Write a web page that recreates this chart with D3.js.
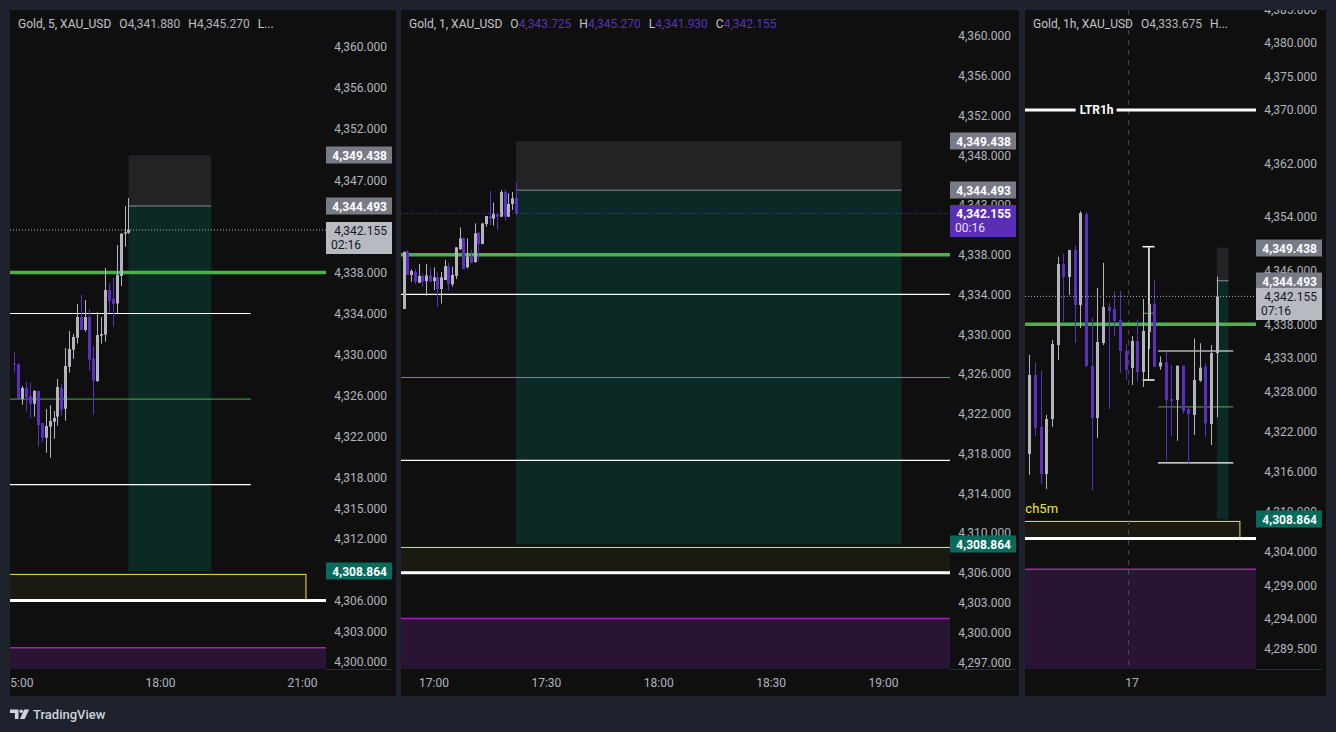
<!DOCTYPE html>
<html>
<head>
<meta charset="utf-8">
<script src="https://cdn.jsdelivr.net/npm/d3@7"></script>
<style>
    html, body { margin: 0; padding: 0; background: #1e222d; }
    svg { display: block; font-family: Roboto, "Noto Sans", sans-serif; }
</style>
</head>
<body>
<div id="chart"></div>
<script>
// ---------- data ----------

// 5 minute bars [open, high, low, close], first bar 14:55
const start5m = "2025-12-17T14:55";
const candles5m = [
    [4329.10, 4330.21, 4328.23, 4329.05], [4329.07, 4329.17, 4325.66, 4325.66],
    [4325.66, 4326.93, 4325.11, 4326.73], [4326.73, 4327.38, 4324.42, 4325.82],
    [4325.95, 4327.22, 4323.84, 4325.20], [4325.20, 4326.54, 4323.94, 4326.44],
    [4326.44, 4326.44, 4321.01, 4323.12], [4323.32, 4323.32, 4321.50, 4321.89],
    [4321.89, 4324.68, 4320.42, 4323.02], [4322.96, 4325.07, 4319.94, 4323.51],
    [4323.45, 4324.49, 4321.79, 4323.81], [4323.94, 4327.61, 4323.06, 4326.83],
    [4326.73, 4327.12, 4324.03, 4324.62], [4324.71, 4330.63, 4323.55, 4328.88],
    [4328.81, 4332.29, 4328.23, 4330.54], [4330.47, 4332.00, 4329.59, 4331.71],
    [4331.64, 4334.93, 4331.06, 4333.66], [4333.66, 4335.81, 4332.39, 4332.42],
    [4332.39, 4335.32, 4332.23, 4333.66], [4333.66, 4334.44, 4328.42, 4329.49],
    [4329.63, 4330.83, 4324.13, 4327.45], [4327.42, 4334.15, 4327.32, 4331.90],
    [4331.84, 4333.66, 4331.06, 4332.00], [4331.94, 4338.44, 4331.25, 4336.29],
    [4336.29, 4336.98, 4334.05, 4335.22], [4335.41, 4337.50, 4332.71, 4334.93],
    [4334.99, 4340.68, 4334.05, 4337.76], [4337.66, 4341.85, 4336.68, 4341.79],
    [4341.79, 4344.49, 4340.52, 4341.92], [4341.88, 4345.27, 4341.79, 4342.155]
];

// 1 minute bars, first bar 16:52
const start1m = "2025-12-17T16:52";
const candles1m = [
    [4332.54, 4338.30, 4332.54, 4338.30], [4338.30, 4338.47, 4335.96, 4335.96],
    [4335.96, 4336.53, 4335.29, 4336.36], [4336.29, 4336.53, 4335.05, 4335.29],
    [4335.18, 4337.06, 4335.18, 4335.87], [4335.87, 4336.12, 4334.78, 4335.29],
    [4335.35, 4337.06, 4333.88, 4335.92], [4335.92, 4336.73, 4335.29, 4335.29],
    [4335.35, 4336.73, 4334.45, 4335.72], [4335.72, 4336.22, 4332.77, 4334.55],
    [4334.55, 4336.26, 4333.10, 4335.72], [4335.45, 4337.47, 4335.45, 4336.86],
    [4336.86, 4337.20, 4334.38, 4335.02], [4335.02, 4336.79, 4334.78, 4335.96],
    [4335.87, 4338.74, 4335.55, 4338.74], [4338.57, 4340.75, 4338.47, 4339.64],
    [4339.64, 4339.74, 4336.56, 4336.56], [4336.73, 4339.64, 4336.63, 4337.80],
    [4337.80, 4338.47, 4337.13, 4337.20], [4337.26, 4341.15, 4337.20, 4340.15],
    [4340.21, 4340.31, 4337.40, 4339.07], [4339.07, 4341.15, 4339.07, 4341.15],
    [4341.09, 4341.89, 4340.82, 4341.89], [4341.89, 4344.41, 4340.99, 4341.62],
    [4341.62, 4343.23, 4340.92, 4342.09], [4342.09, 4342.16, 4340.48, 4341.82],
    [4341.82, 4344.51, 4341.82, 4344.31], [4344.31, 4344.51, 4341.42, 4341.82],
    [4341.82, 4344.17, 4341.82, 4343.10], [4343.10, 4344.31, 4342.50, 4343.67],
    [4343.725, 4345.27, 4341.93, 4342.155]
];

// 1 hour bars (chart's own clock), first bar 16th 06:00
const start1h = "2025-12-16T06:00";
const candles1h = [
    [4318.62, 4333.41, 4315.49, 4330.42], [4330.42, 4332.21, 4321.31, 4322.51],
    [4322.66, 4331.02, 4314.14, 4315.64], [4315.64, 4324.45, 4313.40, 4323.85],
    [4323.85, 4335.65, 4322.66, 4335.05], [4334.90, 4348.04, 4332.66, 4347.00],
    [4347.00, 4348.49, 4338.34, 4345.06], [4345.06, 4349.09, 4342.37, 4349.09],
    [4349.09, 4349.68, 4335.20, 4340.87], [4340.87, 4354.91, 4337.44, 4354.61],
    [4354.46, 4354.76, 4331.62, 4331.77], [4331.77, 4338.93, 4313.25, 4324.00],
    [4324.00, 4343.41, 4321.01, 4335.35], [4335.20, 4347.15, 4334.90, 4340.58],
    [4340.58, 4341.17, 4325.34, 4339.98], [4340.28, 4342.96, 4336.24, 4338.48],
    [4338.63, 4342.96, 4330.72, 4334.00], [4334.00, 4335.05, 4329.67, 4331.17],
    [4331.47, 4336.24, 4328.93, 4335.50], [4335.50, 4338.63, 4329.53, 4330.87],
    [4330.87, 4341.77, 4328.63, 4336.99], [4336.84, 4349.53, 4334.30, 4341.02],
    [4341.02, 4344.61, 4331.66, 4331.66], [4331.66, 4333.20, 4331.20, 4332.31],
    [4332.31, 4333.90, 4317.63, 4326.69], [4326.84, 4331.91, 4321.31, 4326.54],
    [4326.69, 4331.81, 4320.61, 4331.81], [4331.81, 4331.81, 4324.60, 4325.04],
    [4325.34, 4325.44, 4317.23, 4324.60], [4324.45, 4335.89, 4321.46, 4329.67],
    [4329.57, 4335.15, 4329.40, 4331.51], [4331.66, 4332.16, 4321.21, 4323.20],
    [4323.10, 4334.90, 4319.96, 4333.675], [4333.675, 4345.10, 4324.10, 4342.155]
];

// price scale labels
const ticks5m = [4360, 4356, 4352, 4347, 4338, 4334, 4330, 4326, 4322, 4318, 4315, 4312, 4306, 4303, 4300];
const ticks1m = [4360, 4356, 4352, 4348, 4343, 4338, 4334, 4330, 4326, 4322, 4318, 4314, 4310, 4306, 4303, 4300, 4297];
const ticks1h = [4385, 4380, 4375, 4370, 4362, 4354, 4346, 4338, 4333, 4328, 4322, 4316, 4310, 4304, 4299, 4294, 4289.5];

// time scale labels
const timeTicks5m = ["2025-12-17T15:00", "2025-12-17T18:00", "2025-12-17T21:00"];
const timeTicks1m = ["2025-12-17T17:00", "2025-12-17T17:30", "2025-12-17T18:00", "2025-12-17T18:30", "2025-12-17T19:00"];
const timeTicks1h = ["2025-12-17T00:00"];

// drawings (times on the 5m / 1m clock)
const levelPrices = [4334.0, 4325.65, 4317.3];
const levelSpan = ["2025-12-17T06:40", "2025-12-17T19:55"];
const keyLevel = 4338.0;
const lowLevel = 4306.0;
const ltrLevel = 4370.0;
const yellowZone = [4306.0, 4308.55];
const yellowZoneEnd = "2025-12-17T21:05";
const yellowLabelTime = "2025-12-16T13:04";
const purpleZoneTop = 4301.4;
const positionPrices = [4349.438, 4344.493, 4308.864];   // target, entry, stop
const positionSpan = ["2025-12-17T17:22", "2025-12-17T19:05"];
const bracketTime = "2025-12-17T05:00";
const bracketPrices = [4349.58, 4339.63, 4329.67];
const lastPrice = 4342.155;

// ---------- layout ----------
const W = 1336, H = 732;
const TOP = 10, PLOT_BOTTOM = 669, PANEL_BOTTOM = 696;
const UP = "#b2b5be", DOWN = "#5b2fbf";
const parseT = s => new Date(s);
const fmtPrice = d3.format(",.3f");

const panels = [
    {
        key: "p5", left: 10, plotRight: 326, right: 396,
        priceDomain: [4299.32, 4363.61],
        timeDomain: ["2025-12-17T15:00", "2025-12-17T21:00"], timeRange: [18, 302],
        candles: candles5m, start: start5m, step: d3.timeMinute.every(5), stepMin: 5,
        priceTicks: ticks5m, timeTicks: timeTicks5m, timeFmt: "%H:%M", shiftMin: 0,
        title: "Gold, 5, XAU_USD", ohlc: [["O", "4,341.880"], ["H", "4,345.270"], ["L...", ""]],
        countdown: "02:16", bodyW: 3
    },
    {
        key: "p1", left: 401, plotRight: 950, right: 1019,
        priceDomain: [4296.32, 4362.62],
        timeDomain: ["2025-12-17T17:00", "2025-12-17T19:00"], timeRange: [433.5, 883],
        candles: candles1m, start: start1m, step: d3.timeMinute, stepMin: 1,
        priceTicks: ticks1m, timeTicks: timeTicks1m, timeFmt: "%H:%M", shiftMin: 0,
        title: "Gold, 1, XAU_USD",
        ohlc: [["O", "4,343.725"], ["H", "4,345.270"], ["L", "4,341.930"], ["C", "4,342.155"]],
        countdown: "00:16", bodyW: 3
    },
    {
        key: "p60", left: 1025, plotRight: 1256, right: 1326,
        priceDomain: [4286.51, 4384.93],
        timeDomain: ["2025-12-17T00:00", "2025-12-17T15:00"], timeRange: [1131.5, 1216.7],
        candles: candles1h, start: start1h, step: d3.timeHour, stepMin: 60,
        priceTicks: ticks1h, timeTicks: timeTicks1h, timeFmt: "%-d", shiftMin: -120,
        title: "Gold, 1h, XAU_USD", ohlc: [["O", "4,333.675"], ["H...", ""]],
        countdown: "07:16", bodyW: 3, sessionBreaks: ["2025-12-17T00:00"], ltrLabelAt: 0.31
    }
];

const svg = d3.select("#chart").append("svg")
    .attr("width", W)
    .attr("height", H);

svg.append("rect")
    .attr("width", W)
    .attr("height", H)
    .attr("fill", "#1e222d");

const defs = svg.append("defs");

panels.forEach(drawPanel);
drawLogo();

function drawPanel(p) {
    const g = svg.append("g").attr("class", "panel " + p.key);
    const xL = p.left, xR = p.plotRight;

    g.append("rect")
        .attr("x", p.left).attr("y", TOP)
        .attr("width", p.right - p.left).attr("height", PANEL_BOTTOM - TOP)
        .attr("fill", "#0f0f0f");

    const y = d3.scaleLinear().domain(p.priceDomain).range([PLOT_BOTTOM, TOP]);
    const x = d3.scaleTime().domain(p.timeDomain.map(parseT)).range(p.timeRange);
    const toPanel = s => d3.timeMinute.offset(parseT(s), p.shiftMin);

    // clip regions
    addClip("plot-" + p.key, xL, TOP, xR - xL, PLOT_BOTTOM - TOP);
    addClip("axis-" + p.key, xR, TOP, p.right - xR, PLOT_BOTTOM - TOP);
    addClip("time-" + p.key, xL, PLOT_BOTTOM, xR - xL, PANEL_BOTTOM - PLOT_BOTTOM);

    const plot = g.append("g").attr("clip-path", `url(#plot-${p.key})`);

    // purple demand zone (runs off the bottom)
    plot.append("rect")
        .attr("x", xL).attr("y", y(purpleZoneTop))
        .attr("width", xR - xL).attr("height", PLOT_BOTTOM - y(purpleZoneTop))
        .attr("fill", "#2a1433");
    plot.append("line")
        .attr("x1", xL).attr("x2", xR)
        .attr("y1", y(purpleZoneTop)).attr("y2", y(purpleZoneTop))
        .attr("stroke", "#9c27b0").attr("stroke-width", 1.5);

    // yellow zone
    const yzEnd = x(toPanel(yellowZoneEnd));
    plot.append("rect")
        .attr("x", xL - 10).attr("y", y(yellowZone[1]))
        .attr("width", yzEnd - xL + 10).attr("height", y(yellowZone[0]) - y(yellowZone[1]))
        .attr("fill", "#1a1912")
        .attr("stroke", "#f5e33b").attr("stroke-width", 1);
    const labelX = x(toPanel(yellowLabelTime));
    if (labelX > xL) {
        plot.append("text")
            .attr("x", labelX)
            .attr("y", y(yellowZone[1]) - 8)
            .attr("text-anchor", "end")
            .attr("fill", "#f5e33b")
            .attr("font-size", 13)
            .text("ch5m");
    }

    // long/short position tool
    const [target, entry, stop] = positionPrices;
    const px0 = x(p.step.floor(toPanel(positionSpan[0])));
    const px1 = x(toPanel(positionSpan[1]));
    plot.append("rect")
        .attr("x", px0).attr("y", y(target))
        .attr("width", px1 - px0).attr("height", y(entry) - y(target))
        .attr("fill", "#232325");
    plot.append("rect")
        .attr("x", px0).attr("y", y(entry))
        .attr("width", px1 - px0).attr("height", y(stop) - y(entry))
        .attr("fill", "#0b2a26");
    plot.append("line")
        .attr("x1", px0).attr("x2", px1)
        .attr("y1", y(entry)).attr("y2", y(entry))
        .attr("stroke", "#8a8d96").attr("stroke-width", 1);

    // session break
    (p.sessionBreaks || []).forEach(s => {
        const sx = x(d3.timeMinute.offset(parseT(s), -p.stepMin / 2));
        plot.append("line")
            .attr("x1", sx).attr("x2", sx)
            .attr("y1", TOP).attr("y2", PLOT_BOTTOM)
            .attr("stroke", "#4a4c52").attr("stroke-dasharray", "5,5");
    });

    // horizontal levels
    plot.append("line")
        .attr("x1", xL).attr("x2", xR)
        .attr("y1", y(lowLevel)).attr("y2", y(lowLevel))
        .attr("stroke", "#ffffff").attr("stroke-width", 3);

    const lx0 = x(toPanel(levelSpan[0])), lx1 = x(toPanel(levelSpan[1]));
    levelPrices.forEach((v, i) => {
        plot.append("line")
            .attr("x1", lx0).attr("x2", lx1)
            .attr("y1", y(v)).attr("y2", y(v))
            .attr("stroke", i === 1 ? "#4caf50" : "#ffffff")
            .attr("stroke-width", i === 1 ? 1 : 1.2);
    });

    plot.append("line")
        .attr("x1", xL).attr("x2", xR)
        .attr("y1", y(keyLevel)).attr("y2", y(keyLevel))
        .attr("stroke", "#4caf50").attr("stroke-width", 3.5);

    // LTR1h ray with its label cut into it
    const ltrY = y(ltrLevel);
    if (ltrY > TOP && ltrY < PLOT_BOTTOM) {
        const cx = xL + (xR - xL) * p.ltrLabelAt;
        plot.append("line")
            .attr("x1", xL).attr("x2", cx - 21)
            .attr("y1", ltrY).attr("y2", ltrY)
            .attr("stroke", "#ffffff").attr("stroke-width", 3);
        plot.append("line")
            .attr("x1", cx + 20).attr("x2", xR)
            .attr("y1", ltrY).attr("y2", ltrY)
            .attr("stroke", "#ffffff").attr("stroke-width", 3);
        plot.append("text")
            .attr("x", cx).attr("y", ltrY + 4)
            .attr("text-anchor", "middle")
            .attr("fill", "#ffffff").attr("font-size", 12).attr("font-weight", 700)
            .text("LTR1h");
    }

    // range bracket on the 1h chart
    const bx = x(toPanel(bracketTime));
    plot.append("line")
        .attr("x1", bx).attr("x2", bx)
        .attr("y1", y(bracketPrices[0])).attr("y2", y(bracketPrices[2]))
        .attr("stroke", "#e0e0e0").attr("stroke-width", 1);
    [0, 2].forEach(i => {
        plot.append("line")
            .attr("x1", bx - 6).attr("x2", bx + 6)
            .attr("y1", y(bracketPrices[i])).attr("y2", y(bracketPrices[i]))
            .attr("stroke", "#ffffff").attr("stroke-width", 1.5);
    });
    plot.append("line")
        .attr("x1", bx - 6).attr("x2", bx + 5)
        .attr("y1", y(bracketPrices[1])).attr("y2", y(bracketPrices[1]))
        .attr("stroke", "#4caf50").attr("stroke-width", 1);

    // candles
    const start = parseT(p.start);
    const bars = p.candles.map((c, i) => ({
        t: d3.timeMinute.offset(start, i * p.stepMin),
        o: c[0], h: c[1], l: c[2], c: c[3]
    }));
    const candle = plot.append("g").selectAll("g")
        .data(bars)
        .join("g")
        .attr("fill", d => d.c >= d.o ? UP : DOWN)
        .attr("stroke", d => d.c >= d.o ? UP : DOWN);
    candle.append("line")
        .attr("x1", d => Math.round(x(d.t)) + 0.5)
        .attr("x2", d => Math.round(x(d.t)) + 0.5)
        .attr("y1", d => y(d.h)).attr("y2", d => y(d.l))
        .attr("stroke-width", 1);
    candle.append("rect")
        .attr("stroke", "none")
        .attr("x", d => Math.round(x(d.t)) + 0.5 - p.bodyW / 2)
        .attr("width", p.bodyW)
        .attr("y", d => y(Math.max(d.o, d.c)))
        .attr("height", d => Math.max(1, Math.abs(y(d.o) - y(d.c))));

    // last price dotted line
    const last = bars[bars.length - 1];
    const lastColor = last.c >= last.o ? UP : DOWN;
    plot.append("line")
        .attr("x1", xL).attr("x2", xR)
        .attr("y1", y(lastPrice)).attr("y2", y(lastPrice))
        .attr("stroke", lastColor).attr("stroke-width", 1)
        .attr("stroke-dasharray", "1,2");

    // legend line
    const legend = g.append("text")
        .attr("x", p.left + 8).attr("y", 28)
        .attr("font-size", 12)
        .attr("fill", "#c3c6ce");
    legend.append("tspan").text(p.title);
    p.ohlc.forEach(([k, v]) => {
        legend.append("tspan").attr("dx", 8).text(k);
        if (v) legend.append("tspan").attr("fill", lastColor).text(v);
    });

    // price axis
    const axisG = g.append("g")
        .attr("clip-path", `url(#axis-${p.key})`)
        .append("g")
        .attr("transform", `translate(${xR},0)`)
        .call(d3.axisRight(y).tickValues(p.priceTicks).tickFormat(fmtPrice).tickSize(0));
    axisG.select(".domain").remove();
    axisG.selectAll("text")
        .attr("x", 61)
        .attr("text-anchor", "end")
        .attr("fill", "#b2b5be")
        .attr("font-size", 12)
        .attr("font-family", "Roboto, 'Noto Sans', sans-serif");

    // price labels on the axis
    const tag = (v, fill, color) => {
        const ty = Math.round(y(v));
        g.append("rect")
            .attr("x", xR).attr("y", ty - 8.5)
            .attr("width", 66).attr("height", 17)
            .attr("fill", fill);
        g.append("text")
            .attr("x", xR + 61).attr("y", ty + 4.5)
            .attr("text-anchor", "end")
            .attr("fill", color).attr("font-size", 12).attr("font-weight", 700)
            .text(fmtPrice(v));
    };
    tag(target, "#787b86", "#ffffff");
    tag(entry, "#787b86", "#ffffff");
    tag(stop, "#066b5b", "#ffffff");

    const ly = Math.round(y(lastPrice));
    const isUp = lastColor === UP;
    g.append("rect")
        .attr("x", xR).attr("y", ly - 8)
        .attr("width", 66).attr("height", 32)
        .attr("fill", isUp ? "#b8bac1" : "#5a2fb5");
    g.append("text")
        .attr("x", xR + 61).attr("y", ly + 4.5)
        .attr("text-anchor", "end")
        .attr("fill", isUp ? "#131722" : "#ffffff")
        .attr("font-size", 12).attr("font-weight", isUp ? 400 : 700)
        .text(fmtPrice(lastPrice));
    g.append("text")
        .attr("x", xR + 5).attr("y", ly + 19)
        .attr("fill", isUp ? "#131722" : "#e6e0f5")
        .attr("font-size", 12)
        .text(p.countdown);

    // time axis
    const timeG = g.append("g")
        .attr("clip-path", `url(#time-${p.key})`)
        .append("g")
        .attr("transform", `translate(0,${PLOT_BOTTOM})`)
        .call(d3.axisBottom(x)
            .tickValues(p.timeTicks.map(parseT))
            .tickFormat(d3.timeFormat(p.timeFmt))
            .tickSize(0)
            .tickPadding(9));
    timeG.select(".domain").remove();
    timeG.selectAll("text")
        .attr("fill", "#b2b5be")
        .attr("font-size", 12)
        .attr("font-family", "Roboto, 'Noto Sans', sans-serif");

    g.append("line")
        .attr("x1", xR).attr("x2", p.right - 4)
        .attr("y1", PLOT_BOTTOM + 0.5).attr("y2", PLOT_BOTTOM + 0.5)
        .attr("stroke", "#2a2e39");
}

function addClip(id, x, y, w, h) {
    defs.append("clipPath").attr("id", id)
        .append("rect")
        .attr("x", x).attr("y", y)
        .attr("width", w).attr("height", h);
}

function drawLogo() {
    const logo = svg.append("g").attr("fill", "#d1d4dc");
    logo.append("path").attr("d", "M10 709.5 h8.5 v9.5 h-3.6 v-6 h-4.9 z");
    logo.append("circle").attr("cx", 21.2).attr("cy", 711.3).attr("r", 1.8);
    logo.append("path").attr("d", "M24.2 709.5 h5 l-4.6 9.5 h-4.6 z");
    svg.append("text")
        .attr("x", 33).attr("y", 719)
        .attr("fill", "#d1d4dc")
        .attr("font-size", 13)
        .attr("font-weight", 500)
        .text("TradingView");
}
</script>
</body>
</html>
